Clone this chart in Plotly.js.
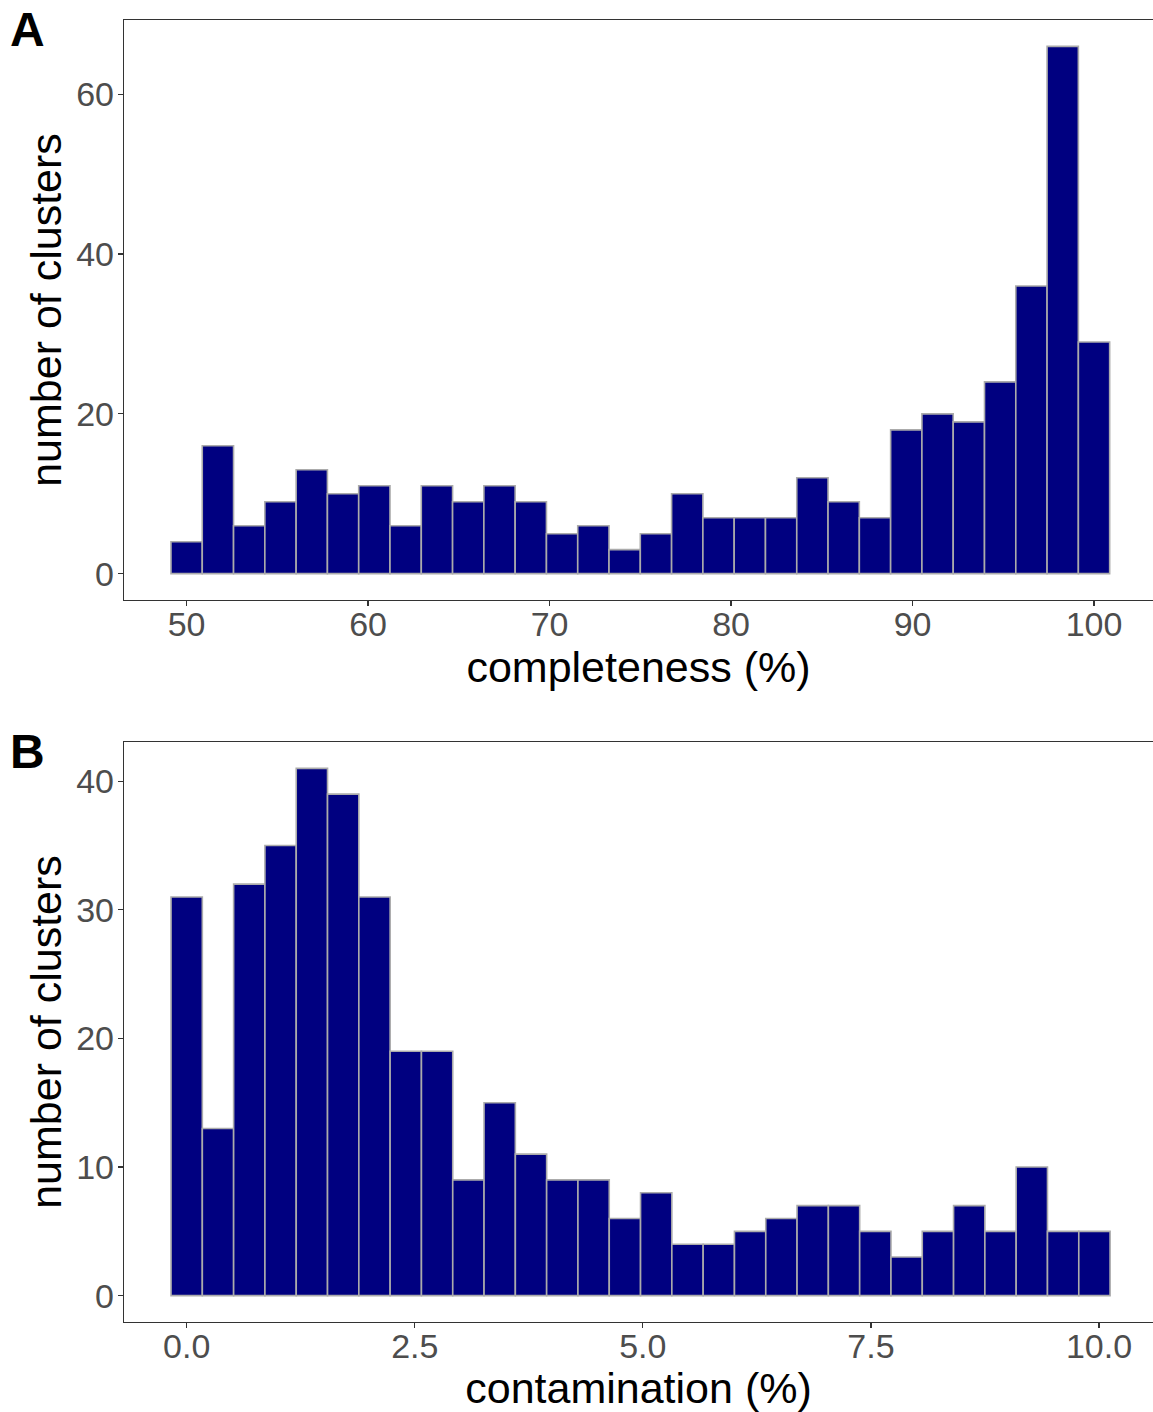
<!DOCTYPE html>
<html>
<head>
<meta charset="utf-8">
<script src="https://cdn.plot.ly/plotly-3.0.1.min.js"></script>
<style>html,body{margin:0;padding:0;background:#fff;}#chart{width:1153px;height:1412px;}</style>
</head>
<body>
<div id="chart"></div>
<script>
// Panel A: completeness histogram (30 bins)
const completenessCounts = [4, 16, 6, 9, 13, 10, 11, 6, 11, 9, 11, 9, 5, 6, 3, 5, 10, 7, 7, 7, 12, 9, 7, 18, 20, 19, 24, 36, 66, 29];
const completenessFirstCenter = 50;
const completenessBinWidth = 50 / 29;
const completenessTicks = [50, 60, 70, 80, 90, 100];

// Panel B: contamination histogram (30 bins)
const contaminationCounts = [31, 13, 32, 35, 41, 39, 31, 19, 19, 9, 15, 11, 9, 9, 6, 8, 4, 4, 5, 6, 7, 7, 5, 3, 5, 7, 5, 10, 5, 5];
const contaminationFirstCenter = 0;
const contaminationBinWidth = 9.95 / 29;
const contaminationTicks = [0, 2.5, 5, 7.5, 10];

const centers = (n, start, w) => Array.from({length: n}, (_, i) => start + i * w);

const barStyle = {color: '#000080', line: {color: '#ABABAB', width: 1.6}};

const traceA = {
  type: 'bar',
  x: centers(completenessCounts.length, completenessFirstCenter, completenessBinWidth),
  y: completenessCounts,
  width: completenessBinWidth,
  marker: barStyle,
  xaxis: 'x', yaxis: 'y',
  hoverinfo: 'x+y'
};
const traceB = {
  type: 'bar',
  x: centers(contaminationCounts.length, contaminationFirstCenter, contaminationBinWidth),
  y: contaminationCounts,
  width: contaminationBinWidth,
  marker: barStyle,
  xaxis: 'x2', yaxis: 'y2',
  hoverinfo: 'x+y'
};

const FAMILY = 'Liberation Sans, Arial, sans-serif';
const tickFont = {family: FAMILY, size: 34, color: '#4D4D4D'};
const titleFont = {family: FAMILY, size: 43, color: '#000'};

const axisCommon = {
  showgrid: false, zeroline: false,
  showline: true, linecolor: '#333333', linewidth: 1.2,
  ticks: 'outside', ticklen: 5, tickwidth: 1.2, tickcolor: '#333333',
  tickfont: tickFont
};

const xCommon = Object.assign({}, axisCommon, {ticklabelstandoff: -11});
const yCommon = Object.assign({}, axisCommon, {ticklabelstandoff: -3});

const layout = {
  width: 1153, height: 1412,
  margin: {l: 124, r: 0, t: 20, b: 90},
  paper_bgcolor: '#fff', plot_bgcolor: '#fff',
  showlegend: false,
  bargap: 0,
  xaxis: Object.assign({}, xCommon, {
    anchor: 'y', domain: [0, 1], range: [46.55, 103.25], mirror: true,
    tickvals: completenessTicks, ticktext: completenessTicks.map(String),
    title: {text: 'completeness (%)', font: titleFont, standoff: 6}
  }),
  yaxis: Object.assign({}, yCommon, {
    anchor: 'x', domain: [722 / 1302, 1], range: [-3.3, 69.3],
    tickvals: [0, 20, 40, 60],
    title: {text: 'number of clusters', font: titleFont, standoff: 1}
  }),
  xaxis2: Object.assign({}, xCommon, {
    anchor: 'y2', domain: [0, 1], range: [-0.687, 10.592], mirror: true,
    tickvals: contaminationTicks, ticktext: contaminationTicks.map(v => v.toFixed(1)),
    title: {text: 'contamination (%)', font: titleFont, standoff: 8}
  }),
  yaxis2: Object.assign({}, yCommon, {
    anchor: 'x2', domain: [0, 580 / 1302], range: [-2.05, 43.05],
    tickvals: [0, 10, 20, 30, 40],
    title: {text: 'number of clusters', font: titleFont, standoff: 1}
  }),
  annotations: [
    {text: '<b>A</b>', xref: 'paper', yref: 'paper', x: -124 / 1153, y: 1 + 20 / 1302, xanchor: 'left', yanchor: 'top',
     xshift: -5, yshift: -1, showarrow: false, font: {family: FAMILY, size: 48, color: '#000'}},
    {text: '<b>B</b>', xref: 'paper', yref: 'paper', x: -124 / 1153, y: (1322 - 742) / 1302, xanchor: 'left', yanchor: 'top',
     xshift: -5, yshift: 19, showarrow: false, font: {family: FAMILY, size: 48, color: '#000'}}
  ]
};

Plotly.newPlot('chart', [traceA, traceB], layout, {displayModeBar: false, staticPlot: true});
</script>
</body>
</html>
